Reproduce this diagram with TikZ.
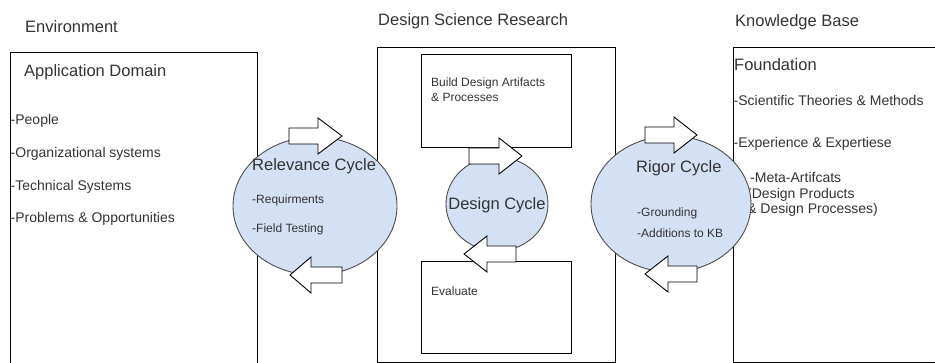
\documentclass[tikz,border=0pt]{standalone}
\usepackage{fontspec}
\setmainfont{Liberation Sans}
\definecolor{cyclefill}{HTML}{D4E1F5}
\definecolor{cycleline}{HTML}{4D4D4D}
\definecolor{txt}{HTML}{333333}
\newcommand{\blockarrow}[4]{% tail x, neck x, tip x, y
  \draw[fatarrow] (#1,#4-8) -- (#2,#4-8) -- (#2,#4-18) -- (#3,#4)
    -- (#2,#4+18) -- (#2,#4+8) -- (#1,#4+8) -- cycle;}

\begin{document}
\begin{tikzpicture}[x=1pt, y=-1pt,
    box/.style={draw=black, line width=0.9pt},
    cycle/.style={draw=cycleline, fill=cyclefill, line width=0.9pt},
    fatarrow/.style={draw=black, fill=white, line width=0.9pt, line join=miter},
    head/.style={anchor=base west, inner sep=0pt, text=txt, font=\fontsize{16.5}{19}\selectfont},
    item/.style={anchor=base west, inner sep=0pt, text=txt, align=left, font=\fontsize{14}{15.5}\selectfont},
    small/.style={anchor=base west, inner sep=0pt, text=txt, align=left, font=\fontsize{12}{15}\selectfont}]
  \useasboundingbox (0,0) rectangle (935,363);

  % column titles
  \node[head] (env) at (25,33) {Environment};
  \node[head] (dsr) at (378,26) {Design Science Research};
  \node[head] (kb) at (735,27) {Knowledge Base};

  % the three columns
  \draw[box] (10,363) -- (10,52) -- (257,52) -- (257,363);
  \draw[box] (377,47) rectangle (615,362);
  \draw[box] (935,47) -- (733,47) -- (733,362) -- (935,362);
  \draw[box] (421,54) rectangle (571,147);
  \draw[box] (421,261) rectangle (571,353);

  % application domain (multi-line nodes sit on their last baseline)
  \node[head] (appdom) at (24,77) {Application Domain};
  \node[item, font=\fontsize{14}{32.7}\selectfont] (applist) at (10.5,223)
    {-People\\-Organizational systems\\-Technical Systems\\-Problems \& Opportunities};

  % design science research
  \node[small] (build) at (431,102) {Build Design Artifacts\\\& Processes};
  \node[small] (eval) at (431,296) {Evaluate};

  % foundation
  \node[head] (found) at (734,71) {Foundation};
  \node[item] (theories) at (733.5,106) {-Scientific Theories \& Methods};
  \node[item] (expert) at (733.5,148) {-Experience \& Expertiese};
  \node[item] (meta) at (747,214) {\hspace*{3pt}-Meta-Artifcats\\(Design Products\\\& Design Processes)};

  % cycles
  \draw[cycle] (315,206) ellipse (82 and 69);
  \draw[cycle] (497,204) ellipse (51 and 47);
  \draw[cycle] (671,204) ellipse (80 and 68);

  \node[head] (relcyc) at (252,171) {Relevance Cycle};
  \node[small, font=\fontsize{12}{29}\selectfont] (rellist) at (252,233) {-Requirments\\-Field Testing};
  \node[head, anchor=base] (descyc) at (497,210) {Design Cycle};
  \node[head] (rigcyc) at (636,173) {Rigor Cycle};
  \node[small, font=\fontsize{12}{21}\selectfont] (riglist) at (637,238) {-Grounding\\-Additions to KB};

  % cycle arrows
  \blockarrow{289}{318}{342}{136}
  \blockarrow{342}{311}{290}{275}
  \blockarrow{469}{499}{522}{156}
  \blockarrow{516}{487}{464}{254}
  \blockarrow{645}{674}{697}{135}
  \blockarrow{697}{668}{645}{274}
\end{tikzpicture}
\end{document}
